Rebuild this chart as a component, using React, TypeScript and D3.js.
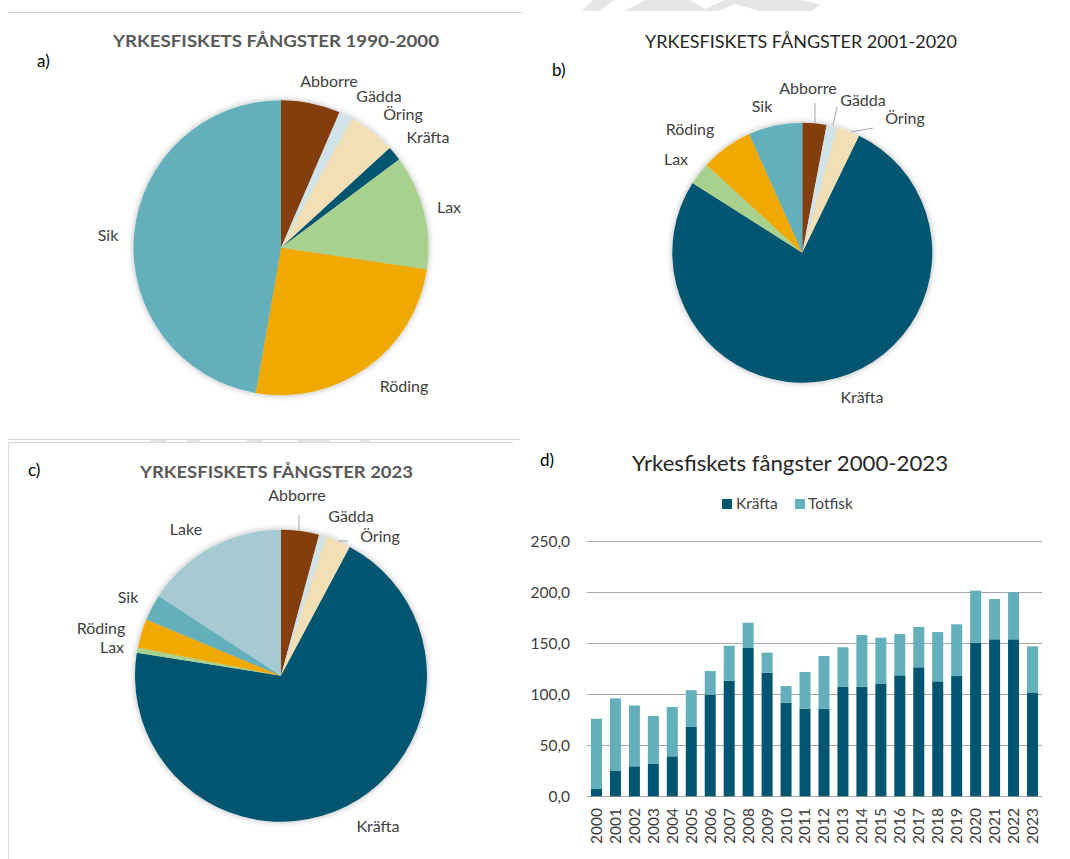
import React from 'react';
import * as d3 from 'd3';

// --- data ---------------------------------------------------------------
const speciesA = ['Abborre', 'Gädda', 'Öring', 'Kräfta', 'Lax', 'Röding', 'Sik'];
const valuesA = [6.5, 1.5, 5.2, 1.6, 12.6, 25.4, 47.3];

const speciesB = ['Abborre', 'Gädda', 'Öring', 'Kräfta', 'Lax', 'Röding', 'Sik'];
const valuesB = [3.0, 1.3, 2.9, 76.8, 2.8, 6.5, 6.7];

const speciesC = ['Abborre', 'Gädda', 'Öring', 'Kräfta', 'Lax', 'Röding', 'Sik', 'Lake'];
const valuesC = [4.2, 0.8, 2.8, 69.7, 0.6, 3.2, 2.9, 15.8];

const years = ['2000', '2001', '2002', '2003', '2004', '2005', '2006', '2007', '2008', '2009', '2010', '2011',
  '2012', '2013', '2014', '2015', '2016', '2017', '2018', '2019', '2020', '2021', '2022', '2023'];
const kraftaSeries = [7.2, 24.8, 29.4, 31.7, 39.2, 68.0, 99.6, 113.3, 145.4, 121.2, 91.8, 85.9,
  85.9, 107.5, 107.5, 110.1, 118.6, 126.5, 112.7, 117.9, 150.6, 153.9, 153.9, 101.3];
const totfiskSeries = [68.8, 71.2, 59.6, 47.0, 48.3, 36.0, 23.2, 34.3, 24.8, 19.6, 16.3, 36.0,
  51.6, 38.6, 50.6, 45.4, 40.5, 39.5, 48.3, 50.7, 51.0, 39.5, 46.1, 45.7];
const yTicks = [0, 50, 100, 150, 200, 250];
const barSeries = ['Kräfta', 'Totfisk'];

// --- styling --------------------------------------------------------------
const speciesColor: Record<string, string> = {
  'Abborre': '#843C0C',
  'Gädda': '#CFE3E8',
  'Öring': '#F3DFB5',
  'Kräfta': '#005670',
  'Lax': '#A9D18E',
  'Röding': '#F0A900',
  'Sik': '#63AFBC',
  'Lake': '#A6CAD1',
  'Totfisk': '#63AFBC',
};

const FONT = 'Lato, "Open Sans", sans-serif';
const TXT = '#404040';

// label anchor points (text centres) for each pie
const labelsA: Record<string, [number, number]> = {
  'Abborre': [329, 87], 'Gädda': [379, 102], 'Öring': [403, 120], 'Kräfta': [428, 143],
  'Lax': [449, 213], 'Röding': [404, 392], 'Sik': [108, 241],
};
const labelsB: Record<string, [number, number]> = {
  'Abborre': [808, 94], 'Gädda': [863, 106], 'Öring': [905, 124], 'Kräfta': [862, 403],
  'Lax': [676, 165], 'Röding': [690, 135], 'Sik': [762, 112],
};
const labelsC: Record<string, [number, number]> = {
  'Abborre': [297, 501], 'Gädda': [351, 522], 'Öring': [380, 542], 'Kräfta': [378, 832],
  'Lax': [112, 653], 'Röding': [101, 634], 'Sik': [128, 603], 'Lake': [186, 535],
};
const leadersB = [[[815, 103], [815, 123]], [[837, 107], [833, 125]], [[873, 128], [851, 132]]];
const leadersC = [[[299, 515], [299, 530]], [[338, 541], [348, 541]]];

type PieProps = {
  species: string[];
  values: number[];
  cx: number;
  cy: number;
  r: number;
  labels: Record<string, [number, number]>;
  leaders?: number[][][];
};

const Pie = ({ species, values, cx, cy, r, labels, leaders = [] }: PieProps) => {
  const arcs = d3.pie<number>().sort(null).value(d => d)(values);
  const arc = d3.arc<d3.PieArcDatum<number>>().innerRadius(0).outerRadius(r);
  return (
    <g>
      <g transform={`translate(${cx},${cy})`} filter="url(#pieShadow)">
        {arcs.map((a, i) => (
          <path key={species[i]} d={arc(a) || ''} fill={speciesColor[species[i]]} />
        ))}
      </g>
      {leaders.map((l, i) => (
        <line key={i} x1={l[0][0]} y1={l[0][1]} x2={l[1][0]} y2={l[1][1]} stroke="#A6A6A6" strokeWidth={1} />
      ))}
      {species.map(s => (
        <text key={s} x={labels[s][0]} y={labels[s][1]} textAnchor="middle"
          fontFamily={FONT} fontSize={16} fill={TXT}>{s}</text>
      ))}
    </g>
  );
};

const BarChart = () => {
  const x = d3.scaleBand<string>().domain(years).range([587, 1042]).paddingInner(0.42).paddingOuter(0.21);
  const y = d3.scaleLinear().domain([0, 250]).range([796.3, 541.3]);
  const table = years.map((yr, i) => ({ year: yr, 'Kräfta': kraftaSeries[i], 'Totfisk': totfiskSeries[i] }));
  const stacked = d3.stack<any>().keys(barSeries)(table);
  const fmt = (v: number) => d3.format('.1f')(v).replace('.', ',');
  return (
    <g fontFamily={FONT}>
      {yTicks.map(t => (
        <g key={t}>
          <line x1={587} x2={1042} y1={Math.round(y(t)) + 0.5} y2={Math.round(y(t)) + 0.5} stroke="#A6A6A6" strokeWidth={1} />
          <text x={570} y={y(t)} dy="0.35em" textAnchor="end" fontSize={15.5} fill={TXT}>{fmt(t)}</text>
        </g>
      ))}
      {stacked.map(layer => (
        <g key={layer.key} fill={speciesColor[layer.key]}>
          {layer.map((d, i) => (
            <rect key={years[i]} x={x(years[i])} y={y(d[1])} width={x.bandwidth()} height={y(d[0]) - y(d[1])} />
          ))}
        </g>
      ))}
      {years.map(yr => (
        <text key={yr} transform={`translate(${(x(yr) || 0) + x.bandwidth() / 2},808) rotate(-90)`}
          dy="0.35em" textAnchor="end" fontSize={15.5} fill={TXT}>{yr}</text>
      ))}
      {/* legend */}
      <rect x={722} y={499} width={10} height={10} fill={speciesColor['Kräfta']} />
      <text x={736} y={509} fontSize={15.5} fill={TXT}>Kräfta</text>
      <rect x={795} y={499} width={10} height={10} fill={speciesColor['Totfisk']} />
      <text x={808} y={509} fontSize={15.5} fill={TXT}>Totfisk</text>
    </g>
  );
};

const App = () => (
  <svg width={1070} height={859} style={{ position: 'absolute', left: 0, top: 0, background: '#fff' }}>
    <defs>
      <filter id="pieShadow" x="-20%" y="-20%" width="140%" height="140%">
        <feDropShadow dx="0" dy="0" stdDeviation="3" floodColor="#000" floodOpacity="0.3" />
      </filter>
    </defs>
    <rect width={1070} height={859} fill="#fff" />

    {/* faint watermark fragments */}
    <g fill="#E6E6E6">
      <polygon points="582,11 593,0 614,0 599,11" />
      <polygon points="625,11 645,0 690,0 705,9 725,0 800,0 820,4 812,11 760,11 735,4 718,11" />
      <rect x={150} y={440} width={17} height={3} />
      <rect x={187} y={440} width={13} height={3} />
      <rect x={247} y={440} width={16} height={3} />
      <rect x={297} y={440} width={33} height={3} />
      <rect x={360} y={440} width={10} height={3} />
    </g>

    {/* frame lines */}
    <line x1={8} x2={522} y1={12.5} y2={12.5} stroke="#D4D4D4" strokeWidth={1} />
    <line x1={8} x2={520} y1={439.5} y2={439.5} stroke="#D4D4D4" strokeWidth={1} />
    <path d="M8.5,859 V442.5 H513" fill="none" stroke="#D9D9D9" strokeWidth={1} />

    {/* a) */}
    <text x={37} y={67} fontFamily={FONT} fontSize={17} fill="#000">a)</text>
    <text x={276} y={47} textAnchor="middle" fontFamily={FONT} fontWeight="bold" fontSize={17}
      fill="#595959" textLength={326} lengthAdjust="spacingAndGlyphs">YRKESFISKETS FÅNGSTER 1990-2000</text>
    <Pie species={speciesA} values={valuesA} cx={281} cy={247.7} r={147.5} labels={labelsA} />

    {/* b) */}
    <text x={552} y={76} fontFamily={FONT} fontSize={17} fill="#000">b)</text>
    <text x={801} y={48} textAnchor="middle" fontFamily={FONT} fontSize={18}
      fill="#262626" textLength={312} lengthAdjust="spacingAndGlyphs">YRKESFISKETS FÅNGSTER 2001-2020</text>
    <Pie species={speciesB} values={valuesB} cx={802.3} cy={252.7} r={130} labels={labelsB} leaders={leadersB} />

    {/* c) */}
    <text x={28} y={476} fontFamily={FONT} fontSize={17} fill="#000">c)</text>
    <text x={276.5} y={478} textAnchor="middle" fontFamily={FONT} fontWeight="bold" fontSize={17}
      fill="#595959" textLength={273} lengthAdjust="spacingAndGlyphs">YRKESFISKETS FÅNGSTER 2023</text>
    <Pie species={speciesC} values={valuesC} cx={281} cy={675.7} r={146} labels={labelsC} leaders={leadersC} />

    {/* d) */}
    <text x={540} y={466} fontFamily={FONT} fontSize={17} fill="#000">d)</text>
    <text x={790} y={471} textAnchor="middle" fontFamily={FONT} fontSize={21}
      fill="#262626" textLength={316} lengthAdjust="spacingAndGlyphs">Yrkesfiskets fångster 2000-2023</text>
    <BarChart />
  </svg>
);

export default App;
